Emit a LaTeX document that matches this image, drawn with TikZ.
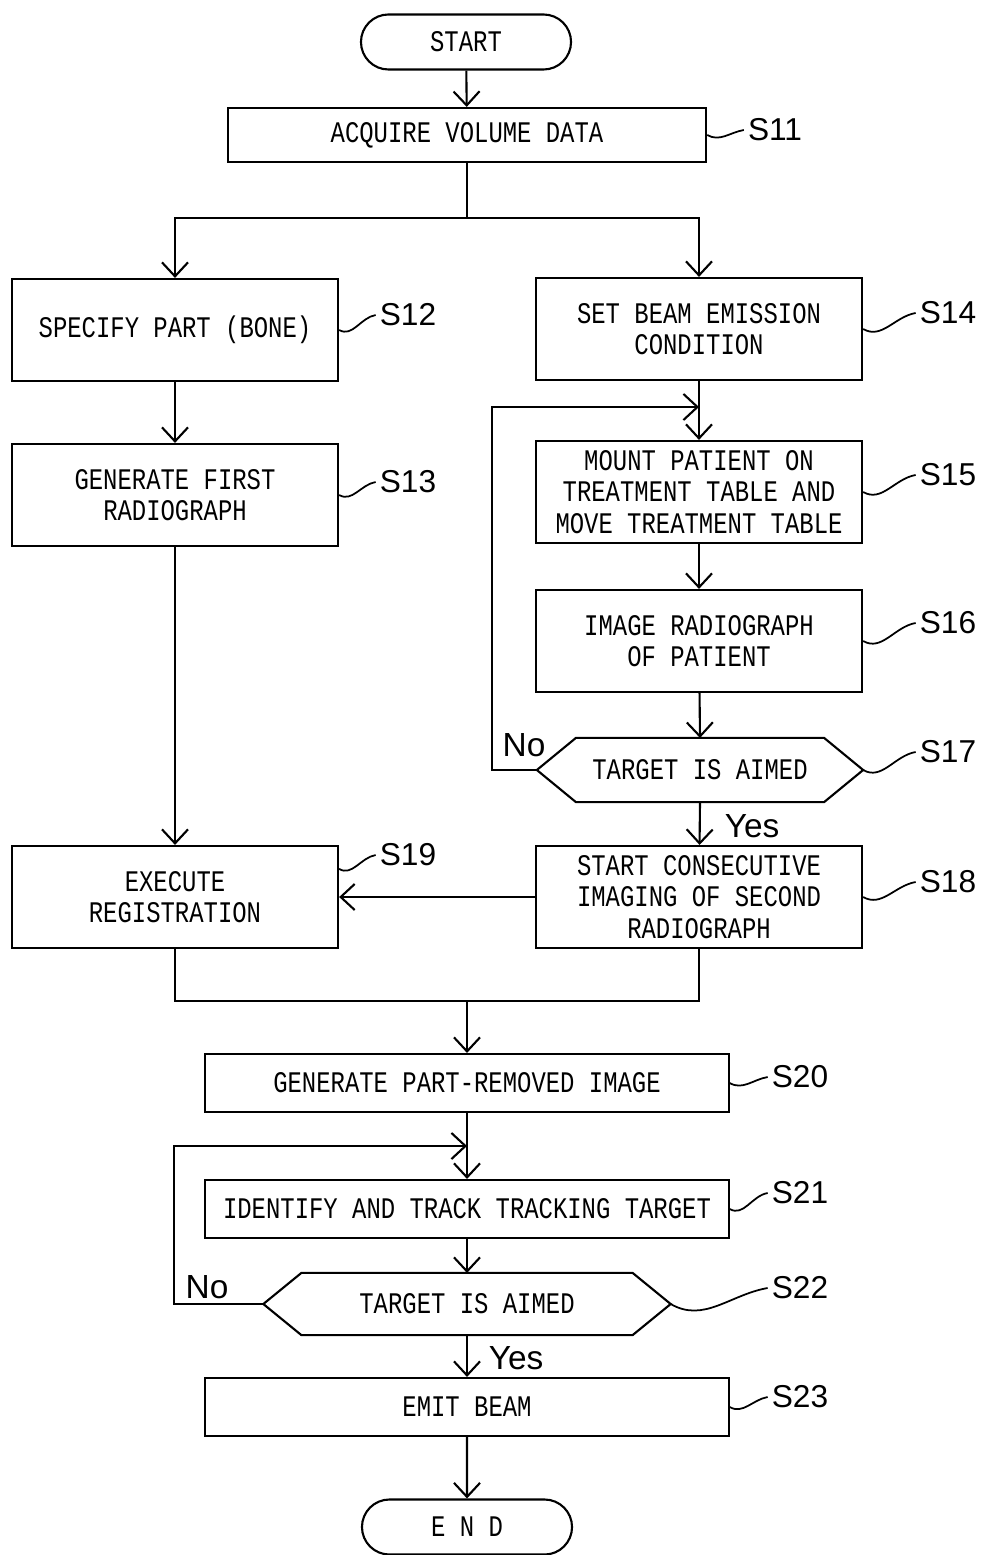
\documentclass[tikz,border=0pt]{standalone}
\usepackage{fontspec}
\setmonofont{Liberation Mono}[FakeStretch=0.8]
\newfontfamily\labelfont{Liberation Sans}
\usetikzlibrary{arrows.meta,shapes.misc}

\tikzset{
	line/.style={line width=0.6pt},
	arr/.style={line, -{Straight Barb[length=1.4mm,width=2.6mm]}},
	lead/.style={line width=0.5pt},
	stepbox/.style={line, draw, rectangle, align=center, inner sep=2pt,
		font=\ttfamily\fontsize{8.5}{9}\selectfont},
	widebox/.style={stepbox, minimum width=3.26cm, minimum height=1.02cm},
	longbox/.style={stepbox, minimum width=5.23cm, minimum height=0.58cm},
	decision/.style={stepbox, draw=none},
	terminal/.style={stepbox, rounded rectangle, minimum width=2.24cm, minimum height=0.55cm},
	steplabel/.style={font=\labelfont\fontsize{9}{9}\selectfont, inner sep=1pt},
	answer/.style={font=\labelfont\fontsize{9.5}{9.5}\selectfont, inner sep=1pt}
}

\begin{document}
\begin{tikzpicture}[x=0.01cm, y=-0.01cm]
\useasboundingbox (0,0) rectangle (981,1555);

% steps
\node[terminal] (start) at (466,42) {START};
\node[stepbox, minimum width=4.78cm, minimum height=0.54cm] (s11) at (467,135) {ACQUIRE VOLUME DATA};
\node[widebox] (s12) at (175,330) {SPECIFY PART (BONE)};
\node[widebox] (s13) at (175,495) {GENERATE FIRST\\RADIOGRAPH};
\node[widebox] (s14) at (699,329) {SET BEAM EMISSION\\CONDITION};
\node[widebox] (s15) at (699,492) {MOUNT PATIENT ON\\TREATMENT TABLE AND\\MOVE TREATMENT TABLE};
\node[widebox] (s16) at (699,641) {IMAGE RADIOGRAPH\\OF PATIENT};
\node[decision, minimum width=3.24cm, minimum height=0.62cm] (s17) at (700,770) {TARGET IS AIMED};
\node[widebox] (s18) at (699,897) {START CONSECUTIVE\\IMAGING OF SECOND\\RADIOGRAPH};
\node[widebox] (s19) at (175,897) {EXECUTE\\REGISTRATION};
\node[longbox] (s20) at (467,1083) {GENERATE PART-REMOVED IMAGE};
\node[longbox] (s21) at (467,1209) {IDENTIFY AND TRACK TRACKING TARGET};
\node[decision, minimum width=4.05cm, minimum height=0.60cm] (s22) at (467,1304) {TARGET IS AIMED};
\node[longbox] (s23) at (467,1407) {EMIT BEAM};
\node[terminal] (end) at (467,1527) {E N D};

% hexagons
\draw[line] (s17.west) -- ([xshift=0.39cm]s17.north west) -- ([xshift=-0.39cm]s17.north east)
	-- (s17.east) -- ([xshift=-0.39cm]s17.south east) -- ([xshift=0.39cm]s17.south west) -- cycle;
\draw[line] (s22.west) -- ([xshift=0.38cm]s22.north west) -- ([xshift=-0.38cm]s22.north east)
	-- (s22.east) -- ([xshift=-0.38cm]s22.south east) -- ([xshift=0.38cm]s22.south west) -- cycle;

% junctions
\coordinate (split) at (467,218);
\coordinate (merge) at (467,1001);
\coordinate (no1) at (492,407);
\coordinate (loop1) at (699,407);
\coordinate (no2) at (174,1146);
\coordinate (loop2) at (467,1146);

% connectors
\draw[arr] (start) -- (s11);
\draw[line] (s11) -- (split);
\draw[arr] (split) -| (s12.north);
\draw[arr] (split) -| (s14.north);
\draw[arr] (s12) -- (s13);
\draw[arr] (s13) -- (s19);
\draw[arr] (s14) -- (s15);
\draw[arr] (s15) -- (s16);
\draw[arr] (s16) -- (s17.north);
\draw[arr] (s17.west) -| (no1) -- (loop1);
\draw[arr] (s17.south) -- (s18);
\draw[arr] (s18) -- (s19);
\draw[line] (s19) |- (merge);
\draw[line] (s18) |- (merge);
\draw[arr] (merge) -- (s20);
\draw[arr] (s20) -- (s21);
\draw[arr] (s22.west) -| (no2) -- (loop2);
\draw[arr] (s21) -- (s22.north);
\draw[arr] (s22.south) -- (s23);
\draw[arr] (s23) -- (end);

% branch answers
\node[answer] (no17) at (524,745) {No};
\node[answer] (yes17) at (752,826) {Yes};
\node[answer] (no22) at (207,1287) {No};
\node[answer] (yes22) at (516,1358) {Yes};

% step numbers
\node[steplabel] (l11) at (775,130) {S11};
\node[steplabel] (l12) at (408,315) {S12};
\node[steplabel] (l13) at (408,482) {S13};
\node[steplabel] (l14) at (948,313) {S14};
\node[steplabel] (l15) at (948,475) {S15};
\node[steplabel] (l16) at (948,623) {S16};
\node[steplabel] (l17) at (948,752) {S17};
\node[steplabel] (l18) at (948,882) {S18};
\node[steplabel] (l19) at (408,855) {S19};
\node[steplabel] (l20) at (800,1077) {S20};
\node[steplabel] (l21) at (800,1193) {S21};
\node[steplabel] (l22) at (800,1288) {S22};
\node[steplabel] (l23) at (800,1397) {S23};

\draw[lead] (s11.east) to[out=-30,in=190] (l11.west);
\draw[lead] (s12.east) to[out=-30,in=190] (l12.west);
\draw[lead] (s13.east) to[out=-30,in=190] (l13.west);
\draw[lead] (s14.east) to[out=-30,in=190] (l14.west);
\draw[lead] (s15.east) to[out=-30,in=190] (l15.west);
\draw[lead] (s16.east) to[out=-30,in=190] (l16.west);
\draw[lead] (s17.east) to[out=-30,in=190] (l17.west);
\draw[lead] (s18.east) to[out=-30,in=190] (l18.west);
\draw[lead] ([yshift=-0.24cm]s19.north east) to[out=-30,in=190] (l19.west);
\draw[lead] (s20.east) to[out=-30,in=190] (l20.west);
\draw[lead] (s21.east) to[out=-30,in=190] (l21.west);
\draw[lead] (s22.east) to[out=-30,in=190] (l22.west);
\draw[lead] (s23.east) to[out=-30,in=190] (l23.west);
\end{tikzpicture}
\end{document}
